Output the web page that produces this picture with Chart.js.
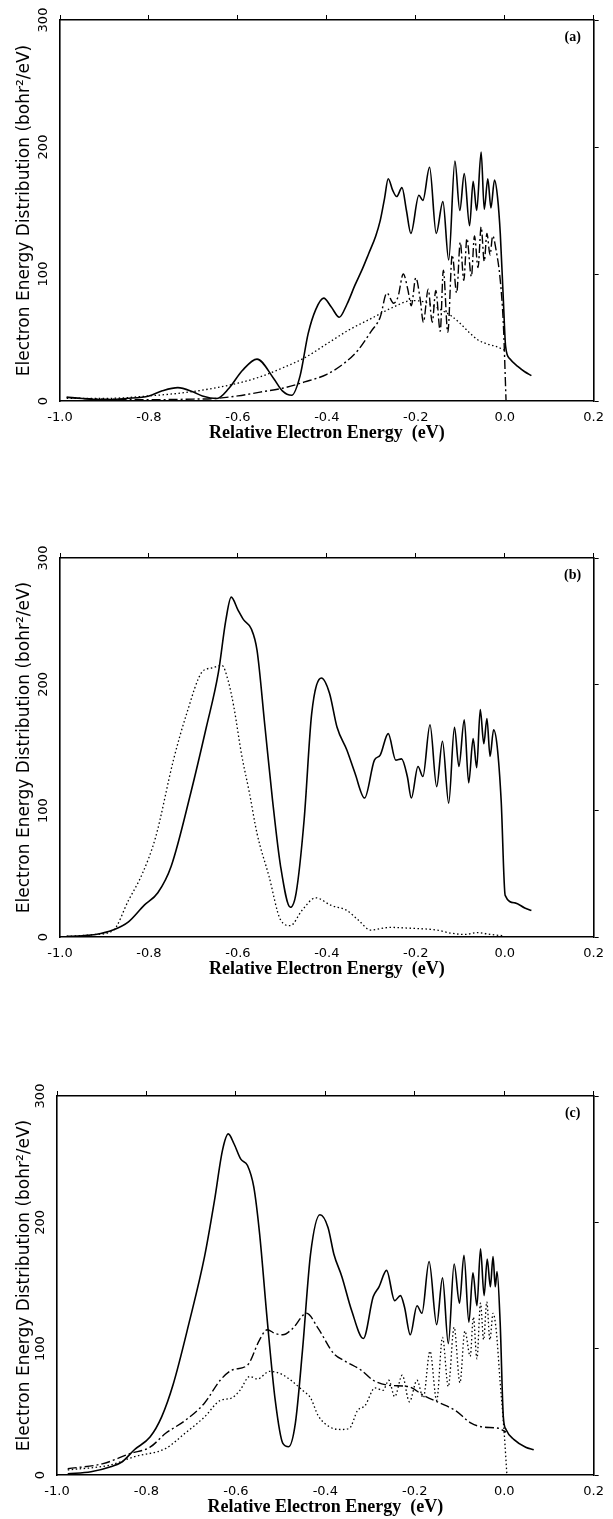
<!DOCTYPE html>
<html>
<head>
<meta charset="utf-8">
<script src="https://cdn.jsdelivr.net/npm/chart.js@4.4.1/dist/chart.umd.min.js"></script>
<style>
  html, body { margin: 0; padding: 0; background: #fff; }
  body { width: 613px; height: 1519px; position: relative; overflow: hidden; }
  .panel { position: absolute; left: 0; width: 613px; height: 538px; }
</style>
</head>
<body>
<div class="panel" style="top:0px"><canvas id="ca"></canvas></div>
<div class="panel" style="top:538px"><canvas id="cb"></canvas></div>
<div class="panel" style="top:1076px"><canvas id="cc"></canvas></div>
<script>
// ---- Data: [relative electron energy (eV), distribution (bohr^2/eV)] ----
const xTickValues = [-1.0, -0.8, -0.6, -0.4, -0.2, 0.0, 0.2];
const yTickValues = [0, 100, 200, 300];
const panelLabels = ['(a)', '(b)', '(c)'];

const aSolid = [[-0.985,3],[-0.95,2],[-0.9,1],[-0.85,2],[-0.8,4],[-0.77,8],[-0.735,10.5],[-0.7,7],[-0.68,4],[-0.647,2],[-0.62,10],[-0.59,24],[-0.557,33],[-0.52,18],[-0.5,8],[-0.479,4.5],[-0.46,20],[-0.442,53],[-0.425,72],[-0.407,81],[-0.39,74],[-0.372,66],[-0.355,76],[-0.337,91],[-0.32,104],[-0.306,116],[-0.29,130],[-0.28,142],[-0.27,160],[-0.262,175],[-0.252,166],[-0.243,161],[-0.231,168],[-0.221,150],[-0.211,132],[-0.193,162],[-0.184,158],[-0.169,184],[-0.154,132],[-0.139,157],[-0.126,111],[-0.112,189],[-0.101,150],[-0.091,179],[-0.079,138],[-0.071,173],[-0.063,150],[-0.053,196],[-0.046,151],[-0.038,175],[-0.031,152],[-0.023,174],[-0.016,160],[-0.01,132],[-0.003,79],[0.002,43],[0.012,33],[0.03,27],[0.045,23],[0.06,20]];
const aDotted = [[-0.985,2],[-0.9,2],[-0.8,4],[-0.7,7.5],[-0.6,14],[-0.55,19],[-0.5,26],[-0.45,34],[-0.4,45],[-0.35,56],[-0.3,65],[-0.25,74],[-0.21,79],[-0.18,78],[-0.15,73],[-0.12,67],[-0.1,61],[-0.08,54],[-0.06,48],[-0.04,45],[-0.02,43],[0,40]];
const aDashDot = [[-0.985,3],[-0.95,2],[-0.9,1.5],[-0.8,1],[-0.7,1.5],[-0.65,2],[-0.6,4],[-0.55,7],[-0.5,10],[-0.45,15],[-0.4,21],[-0.36,30],[-0.33,40],[-0.3,55],[-0.28,66],[-0.265,85],[-0.25,77],[-0.24,82],[-0.228,100],[-0.218,88],[-0.21,75],[-0.2,97],[-0.19,80],[-0.183,62],[-0.172,88],[-0.163,62],[-0.155,87],[-0.145,55],[-0.138,103],[-0.128,54],[-0.118,115],[-0.108,85],[-0.1,125],[-0.092,95],[-0.085,128],[-0.075,98],[-0.068,130],[-0.06,105],[-0.053,137],[-0.046,110],[-0.04,132],[-0.033,115],[-0.027,130],[-0.02,120],[-0.01,95],[-0.003,60],[0.003,0]];

const bSolid = [[-0.985,0.5],[-0.95,1],[-0.92,2],[-0.881,5.5],[-0.846,12],[-0.811,25],[-0.78,35],[-0.75,56],[-0.706,114],[-0.671,166],[-0.644,209],[-0.627,251],[-0.615,269],[-0.6,259],[-0.587,251],[-0.57,244],[-0.557,227],[-0.539,166],[-0.522,108],[-0.504,56],[-0.482,23.5],[-0.469,35],[-0.451,93],[-0.434,177],[-0.412,205],[-0.394,193],[-0.377,166],[-0.355,148],[-0.337,130],[-0.315,110],[-0.293,140],[-0.28,144],[-0.262,161],[-0.245,140],[-0.232,141],[-0.219,127],[-0.21,110],[-0.195,135],[-0.184,127],[-0.168,168],[-0.153,119],[-0.14,155],[-0.126,106],[-0.113,166],[-0.103,135],[-0.091,172],[-0.081,122],[-0.071,157],[-0.063,134],[-0.055,180],[-0.047,153],[-0.04,173],[-0.033,143],[-0.025,164],[-0.017,151],[-0.008,108],[0.001,33],[0.023,27],[0.045,23],[0.06,21]];
const bDotted = [[-0.985,0.5],[-0.92,2],[-0.881,5],[-0.846,29],[-0.815,50],[-0.785,79],[-0.745,140],[-0.715,177],[-0.68,210],[-0.658,213],[-0.636,215],[-0.622,203],[-0.609,182],[-0.592,145],[-0.574,114],[-0.557,82],[-0.53,48],[-0.504,13.5],[-0.482,9],[-0.456,21],[-0.425,31],[-0.39,25],[-0.355,21],[-0.328,13],[-0.302,5.5],[-0.258,7.6],[-0.215,7],[-0.153,5.5],[-0.12,3],[-0.09,2],[-0.06,3.5],[-0.04,2.5],[-0.02,1.5],[0,1]];

const cSolid = [[-0.976,1],[-0.924,2.6],[-0.88,6.6],[-0.854,10.5],[-0.827,20],[-0.792,30],[-0.766,46],[-0.74,72],[-0.705,120],[-0.67,173],[-0.648,217],[-0.63,257],[-0.617,270],[-0.604,262],[-0.589,250],[-0.574,245],[-0.56,228],[-0.547,191],[-0.53,123],[-0.512,59],[-0.495,25],[-0.482,22.4],[-0.467,41],[-0.451,99],[-0.433,175],[-0.412,206],[-0.394,196],[-0.381,175],[-0.363,157],[-0.341,130],[-0.315,108],[-0.293,141],[-0.28,149],[-0.263,162],[-0.245,138],[-0.232,142],[-0.223,133],[-0.21,111],[-0.195,134],[-0.184,128],[-0.168,169],[-0.151,119],[-0.138,156],[-0.125,104],[-0.112,167],[-0.1,136],[-0.09,174],[-0.079,121],[-0.07,160],[-0.061,134],[-0.053,179],[-0.045,142],[-0.038,171],[-0.031,149],[-0.025,173],[-0.02,149],[-0.016,161],[-0.009,120],[-0.002,46],[0.004,36],[0.022,28],[0.048,22],[0.066,20]];
const cDashDot = [[-0.976,5],[-0.897,9],[-0.836,17],[-0.792,22],[-0.757,33],[-0.714,43],[-0.67,57],[-0.635,75],[-0.609,83],[-0.574,87],[-0.547,107],[-0.53,115],[-0.512,112],[-0.495,111],[-0.473,116],[-0.442,128],[-0.416,116],[-0.381,96],[-0.355,90],[-0.32,83],[-0.293,75],[-0.258,71],[-0.215,70],[-0.18,63],[-0.144,57],[-0.109,51],[-0.074,41],[-0.048,38],[-0.013,37],[0.004,34]];
const cDotted = [[-0.976,4],[-0.88,8],[-0.827,14.5],[-0.757,21],[-0.714,33],[-0.67,46],[-0.635,59],[-0.609,61],[-0.591,67],[-0.569,78],[-0.552,76],[-0.525,82],[-0.499,80],[-0.477,75],[-0.451,67],[-0.433,61],[-0.416,47],[-0.39,38],[-0.363,36],[-0.346,37],[-0.328,51],[-0.311,55],[-0.289,69],[-0.271,67],[-0.258,75],[-0.245,62],[-0.228,79],[-0.212,58],[-0.195,75],[-0.181,61],[-0.166,98],[-0.151,59],[-0.138,109],[-0.125,70],[-0.112,117],[-0.099,73],[-0.088,114],[-0.076,94],[-0.069,125],[-0.061,92],[-0.053,136],[-0.046,107],[-0.039,137],[-0.032,107],[-0.025,128],[-0.018,115],[-0.009,73],[0,33],[0.006,0]];

// ---- Styling ----
const SANS = "'DejaVu Sans', 'Liberation Sans', Arial, sans-serif";
const SERIF = "'Liberation Serif', 'Times New Roman', serif";
const styles = {
  solid:   { borderWidth: 1.6, borderDash: [] },
  dotted:  { borderWidth: 1.3, borderDash: [1.5, 2.5] },
  dashdot: { borderWidth: 1.4, borderDash: [9, 3, 2, 3] }
};

function ds(points, kind) {
  return Object.assign({
    data: points.map(p => ({ x: p[0], y: p[1] })),
    borderColor: '#000',
    backgroundColor: '#000',
    pointRadius: 0,
    cubicInterpolationMode: 'monotone',
    fill: false,
    order: kind === 'solid' ? 0 : 1
  }, styles[kind]);
}

const panelLabelPlugin = {
  id: 'panelLabel',
  afterDraw(chart, args, opts) {
    const { ctx, chartArea } = chart;
    ctx.save();
    ctx.font = 'bold 14px ' + SERIF;
    ctx.fillStyle = '#000';
    ctx.textAlign = 'center';
    ctx.textBaseline = 'middle';
    ctx.fillText(opts.text, chartArea.right - 21, chartArea.top + 17);
    ctx.restore();
  }
};

function fmtX(v) {
  if (Math.abs(v) < 1e-9) return '0.0';
  return v.toFixed(1);
}

function makeChart(id, datasets, label, g) {
  const H = 538, W = 613;
  const xH = 43;
  new Chart(document.getElementById(id), {
    type: 'line',
    data: { datasets },
    plugins: [panelLabelPlugin],
    options: {
      responsive: true,
      maintainAspectRatio: false,
      animation: false,
      events: [],
      layout: { padding: { top: g.top - 6, left: 0, right: W - g.right - 6, bottom: H - g.bottom - xH } },
      plugins: { legend: { display: false }, tooltip: { enabled: false }, panelLabel: { text: label } },
      scales: {
        x: {
          type: 'linear', position: 'bottom', min: -1.0, max: 0.2,
          afterBuildTicks: s => { s.ticks = xTickValues.map(v => ({ value: v })); },
          grid: { display: false, drawTicks: false },
          border: { display: true, color: '#000', width: 1.6 },
          ticks: { color: '#000', font: { family: SANS, size: 13 }, padding: 9, maxRotation: 0, callback: fmtX },
          title: { display: true, text: 'Relative Electron Energy  (eV)', color: '#000', font: { family: SERIF, size: 18, weight: 'bold' }, padding: { top: 0, bottom: 0 } },
          afterFit: s => { s.height = xH; }
        },
        x2: {
          type: 'linear', position: 'top', min: -1.0, max: 0.2,
          afterBuildTicks: s => { s.ticks = xTickValues.map(v => ({ value: v })); },
          grid: { display: true, drawOnChartArea: false, drawTicks: true, tickLength: 5, color: '#000', lineWidth: 1 },
          border: { display: true, color: '#000', width: 1.6 },
          ticks: { display: false },
          afterFit: s => { s.height = 6; }
        },
        y: {
          type: 'linear', position: 'left', min: 0, max: 300,
          afterBuildTicks: s => { s.ticks = yTickValues.map(v => ({ value: v })); },
          grid: { display: false, drawTicks: false },
          border: { display: true, color: '#000', width: 1.6 },
          ticks: { color: '#000', font: { family: SANS, size: 13 }, padding: 4, minRotation: 90, maxRotation: 90, crossAlign: 'center' },
          title: { display: true, text: 'Electron Energy Distribution (bohr\u00B2/eV)', color: '#000', font: { family: SANS, size: 17 }, padding: { top: 14, bottom: 0 } },
          afterFit: s => { s.width = g.left; }
        },
        y2: {
          type: 'linear', position: 'right', min: 0, max: 300,
          afterBuildTicks: s => { s.ticks = yTickValues.map(v => ({ value: v })); },
          grid: { display: true, drawOnChartArea: false, drawTicks: true, tickLength: 5, color: '#000', lineWidth: 1 },
          border: { display: true, color: '#000', width: 1.6 },
          ticks: { display: false },
          afterFit: s => { s.width = 6; }
        }
      }
    }
  });
}

makeChart('ca', [ds(aSolid, 'solid'), ds(aDotted, 'dotted'), ds(aDashDot, 'dashdot')], panelLabels[0], { top: 20, bottom: 401, left: 60, right: 597 });
makeChart('cb', [ds(bSolid, 'solid'), ds(bDotted, 'dotted')], panelLabels[1], { top: 20, bottom: 399, left: 60, right: 595 });
makeChart('cc', [ds(cSolid, 'solid'), ds(cDashDot, 'dashdot'), ds(cDotted, 'dotted')], panelLabels[2], { top: 20, bottom: 399, left: 57, right: 595 });
</script>
</body>
</html>
